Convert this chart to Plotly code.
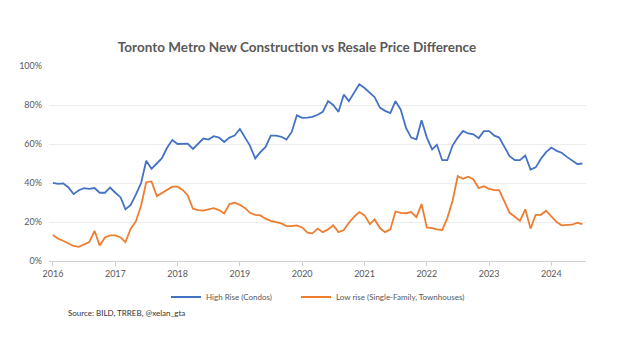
import plotly.graph_objects as go
import pandas as pd

months = pd.date_range("2016-01-01", "2024-07-01", freq="MS")

high_rise = [
    40.1, 39.6, 39.8, 37.7, 34.3, 36.3, 37.4, 37.0, 37.4, 35.0, 35.0, 37.7,
    35.0, 32.6, 26.5, 28.8, 34.0, 40.0, 51.4, 47.3, 50.0, 52.7, 58.2, 62.0,
    60.0, 60.2, 60.2, 57.5, 60.0, 62.8, 62.3, 64.0, 63.3, 61.0, 63.3, 64.3,
    67.7, 63.3, 59.2, 52.6, 55.8, 58.5, 64.3, 64.3, 63.7, 62.3, 66.2, 74.7,
    73.4, 73.5, 73.9, 75.0, 76.5, 82.0, 80.0, 76.5, 85.3, 82.0, 86.2, 90.6,
    88.7, 86.3, 84.0, 78.7, 77.0, 75.9, 82.0, 77.6, 68.2, 63.3, 62.4, 72.2,
    63.3, 57.2, 59.6, 51.7, 51.7, 59.2, 63.3, 66.7, 65.4, 65.0, 63.0, 66.6,
    66.6, 64.3, 63.3, 58.5, 53.8, 51.7, 51.7, 54.1, 46.9, 48.0, 52.4, 55.8,
    58.2, 56.5, 55.5, 53.4, 51.7, 49.7, 50.0,
]

low_rise = [
    13.3, 11.4, 10.4, 9.0, 7.7, 7.3, 8.4, 9.7, 15.5, 8.0, 12.1, 13.1,
    13.1, 12.1, 9.7, 16.6, 20.3, 28.5, 40.4, 40.8, 33.3, 35.0, 36.7, 38.1,
    38.1, 36.3, 33.6, 26.8, 26.1, 25.8, 26.5, 27.1, 26.1, 24.4, 29.2, 29.9,
    28.8, 27.1, 24.7, 23.7, 23.4, 21.7, 20.6, 20.0, 19.3, 17.9, 17.9, 18.3,
    17.2, 14.5, 14.2, 16.6, 14.8, 16.2, 18.3, 14.8, 15.9, 19.6, 22.7, 25.1,
    23.4, 18.9, 21.3, 16.9, 14.8, 16.2, 25.4, 24.7, 24.5, 25.1, 22.5, 29.2,
    17.2, 16.9, 16.2, 15.9, 22.0, 30.9, 43.5, 42.2, 43.2, 41.8, 37.4, 38.4,
    37.0, 36.3, 36.3, 30.5, 24.7, 22.7, 20.6, 26.5, 16.6, 23.7, 23.7, 25.8,
    22.7, 20.0, 18.3, 18.6, 18.6, 19.6, 18.9,
]

series_names = ["High Rise (Condos)", "Low rise (Single-Family, Townhouses)"]
series_colors = ["#4472C4", "#ED7D31"]
series_legends = ["legend", "legend2"]

fig = go.Figure()
for name, vals, col, lg in zip(series_names, [high_rise, low_rise], series_colors, series_legends):
    fig.add_trace(go.Scatter(
        x=months, y=vals, mode="lines", name=name, legend=lg,
        line=dict(color=col, width=1.8),
    ))

font_family = "Lato, 'Open Sans', sans-serif"

W, H = 640, 360
L, T, R, B = 41, 58, 578, 253   # plot box in figure px
plot_w, plot_h = R - L, B - T

legend_common = dict(
    orientation="h", xanchor="left", yanchor="middle",
    y=-(289 - B) / plot_h,
    font=dict(size=8, color="#595959"), bgcolor="rgba(0,0,0,0)",
)

fig.update_layout(
    width=W, height=H,
    margin=dict(l=L, r=W - R, t=T, b=H - B),
    paper_bgcolor="white", plot_bgcolor="white",
    font=dict(family=font_family, color="#595959", size=9),
    title=dict(
        text="<b>Toronto Metro New Construction vs Resale Price Difference</b>",
        x=(297 - 8) / W, xanchor="center", y=1 - 39 / H, yanchor="middle",
        font=dict(size=13.5, color="#595959", family=font_family),
    ),
    showlegend=True,
    legend=dict(x=(166 - 8 - L) / plot_w, **legend_common),
    legend2=dict(x=(296 - 8 - L) / plot_w, **legend_common),
    xaxis=dict(
        type="date",
        range=["2015-12-09", "2024-07-22"],
        tickformat="%Y", dtick="M12", tick0="2016-01-01",
        showgrid=False, showline=True, linecolor="#d0d0d0", linewidth=1,
        ticks="outside", ticklen=4, tickcolor="#d0d0d0",
        tickfont=dict(size=9, color="#595959"),
    ),
    yaxis=dict(
        range=[0, 100], dtick=20, ticksuffix="%",
        showgrid=True, gridcolor="#ececec", gridwidth=1,
        zeroline=False, showline=False, ticklabelstandoff=6,
        tickfont=dict(size=9, color="#595959"),
    ),
    annotations=[dict(
        text="Source: BILD, TRREB, @xelan_gta",
        xref="paper", yref="paper", x=(66 - 8 - L) / plot_w, y=-(305 - B) / plot_h,
        xanchor="left", yanchor="middle", showarrow=False,
        font=dict(size=8, color="#333333", family=font_family),
    )],
)

fig.write_html("out.html")
